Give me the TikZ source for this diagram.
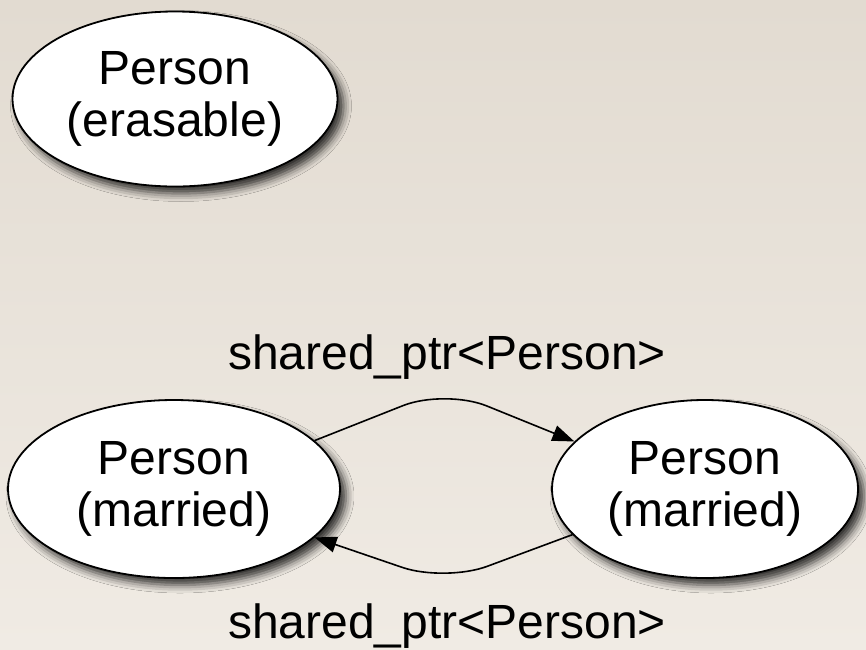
\documentclass[tikz,border=0pt]{standalone}
\usepackage{fontspec}
\setmainfont{Liberation Sans}
\usetikzlibrary{shapes.geometric,arrows.meta,shadows.blur}
\definecolor{bgtop}{RGB}{226,219,209}
\definecolor{bgbot}{RGB}{240,235,228}
\begin{document}
\begin{tikzpicture}[x=1pt,y=-1pt,
  person/.style={ellipse,draw=black,line width=1.8pt,fill=white,
    align=center,inner sep=0pt,
    font=\fontsize{48}{52}\selectfont,
    blur shadow={shadow xshift=6pt,shadow yshift=-7pt,
      shadow blur radius=8pt,shadow opacity=80}},
  ptr/.style={draw=black,line width=1.6pt,rounded corners=45pt,
    -{Triangle[length=22pt,width=16pt]}},
  lbl/.style={font=\fontsize{48}{52}\selectfont}]
  % page and background
  \useasboundingbox (0,0) rectangle (866,649);
  \shade[top color=bgtop,bottom color=bgbot] (0,0) rectangle (866,649);

  % nodes
  \node[person,minimum width=325pt,minimum height=175pt] (erasable) at (175,99)
    {Person\\(erasable)};
  \node[person,minimum width=332pt,minimum height=178pt] (left) at (174,489)
    {Person\\(married)};
  \node[person,minimum width=306pt,minimum height=178pt] (right) at (705,489)
    {Person\\(married)};

  % pointers between the married pair
  \coordinate (top) at (445,389);
  \coordinate (bot) at (445,582);
  \draw[ptr] (left.19) -- (top) -- (right.160);
  \draw[ptr] (right.199) -- (bot) -- (left.341);

  % pointer labels
  \node[lbl] (toplbl) at (447,357) {shared\_ptr<Person>};
  \node[lbl] (botlbl) at (447,626) {shared\_ptr<Person>};
\end{tikzpicture}
\end{document}
